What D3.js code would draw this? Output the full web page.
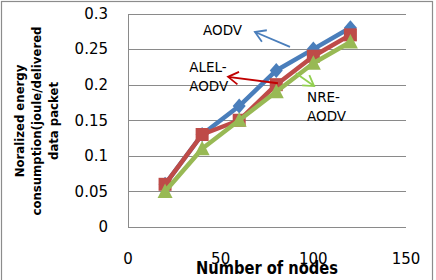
<!DOCTYPE html>
<html>
<head>
<meta charset="utf-8">
<script src="https://cdn.jsdelivr.net/npm/d3@7"></script>
<style>
  body { margin: 0; background: #fff; }
  text { font-family: "DejaVu Sans", sans-serif; fill: #000; }
</style>
</head>
<body>
<div id="chart"></div>
<script>
// data
var nodes = [20, 40, 60, 80, 100, 120];
var aodv = [0.06, 0.13, 0.17, 0.22, 0.25, 0.28];
var alelAodv = [0.06, 0.13, 0.15, 0.20, 0.24, 0.27];
var nreAodv = [0.05, 0.11, 0.15, 0.19, 0.23, 0.26];
var yTicks = [0, 0.05, 0.1, 0.15, 0.2, 0.25, 0.3];
var xTicks = [0, 50, 100, 150];

var width = 436
var height = 280

var svg = d3.select("#chart")
  .append("svg")
    .attr("width", width)
    .attr("height", height)

var x = d3.scaleLinear().domain([0, 150]).range([128, 406]);
var y = d3.scaleLinear().domain([0, 0.3]).range([227, 13.5]);

// outer border
svg.append("rect")
  .attr("x", 1.5).attr("y", 1.5)
  .attr("width", 431).attr("height", 280)
  .attr("fill", "#fff")
  .attr("stroke", "#8c8c8c")
  .attr("stroke-width", 1.2)

// gridlines
svg.selectAll(".grid")
  .data(yTicks)
  .enter()
  .append("line")
    .attr("x1", x(0))
    .attr("x2", x(150))
    .attr("y1", function(d) { return Math.round(y(d)) + 0.5; })
    .attr("y2", function(d) { return Math.round(y(d)) + 0.5; })
    .attr("stroke", "#8a8a8a")
    .attr("stroke-width", 1)

svg.append("line")
  .attr("x1", x(0) + 0.5).attr("x2", x(0) + 0.5)
  .attr("y1", Math.round(y(0.3))).attr("y2", Math.round(y(0)) + 1)
  .attr("stroke", "#8a8a8a")

// tick labels
svg.selectAll(".ylab")
  .data(yTicks)
  .enter()
  .append("text")
    .attr("x", 108)
    .attr("y", function(d) { return y(d); })
    .attr("dy", "0.36em")
    .attr("text-anchor", "end")
    .style("font-size", "15px")
    .text(function(d) { return d3.format("")(+d.toFixed(2)); })

svg.selectAll(".xlab")
  .data(xTicks)
  .enter()
  .append("text")
    .attr("x", function(d) { return x(d); })
    .attr("y", 264)
    .attr("text-anchor", "middle")
    .style("font-size", "15px")
    .text(function(d) { return d; })

// axis titles
svg.append("text")
  .attr("x", 267)
  .attr("y", 274)
  .attr("text-anchor", "middle")
  .attr("textLength", 142)
  .attr("lengthAdjust", "spacingAndGlyphs")
  .style("font-family", "'DejaVu Sans Condensed', 'DejaVu Sans', sans-serif")
  .style("font-weight", "bold")
  .style("font-size", "17px")
  .text("Number of nodes")

var ytitle = ["Noralized energy", "consumption(joule/delivered", "data packet"];
svg.selectAll(".ytitle")
  .data(ytitle)
  .enter()
  .append("text")
    .attr("transform", function(d, i) { return "translate(" + (24 + i * 17) + ",121) rotate(-90)"; })
    .attr("text-anchor", "middle")
    .style("font-family", "'DejaVu Sans Condensed', 'DejaVu Sans', sans-serif")
    .style("font-weight", "bold")
    .style("font-size", "13px")
    .text(function(d) { return d; })

// marker shapes
var diamond = "M0,-7.5L6.5,0L0,7.5L-6.5,0Z";
var square = "M-6.5,-6.5H6.5V6.5H-6.5Z";
var triangle = "M0,-8L7.5,6.5H-7.5Z";

// series
var series = [
  { name: "AODV", values: aodv, color: "#4A7EBB", marker: diamond },
  { name: "ALEL-AODV", values: alelAodv, color: "#BE4B48", marker: square },
  { name: "NRE-AODV", values: nreAodv, color: "#98B954", marker: triangle }
];

var line = d3.line()
  .x(function(d) { return x(d[0]); })
  .y(function(d) { return y(d[1]); })

series.forEach(function(s) {
  var pts = nodes.map(function(n, i) { return [n, s.values[i]]; });
  svg.append("path")
    .attr("d", line(pts))
    .attr("fill", "none")
    .attr("stroke", s.color)
    .attr("stroke-width", 4.5)
    .attr("stroke-linejoin", "round")
  svg.selectAll(null)
    .data(pts)
    .enter()
    .append("path")
      .attr("d", s.marker)
      .attr("transform", function(d) { return "translate(" + x(d[0]) + "," + y(d[1]) + ")"; })
      .attr("fill", s.color)
});

// annotations (data units)
var labels = [
  { lines: ["AODV"], x: 40.5, y: 0.27 },
  { lines: ["ALEL-", "AODV"], x: 33, y: 0.218 },
  { lines: ["NRE-", "AODV"], x: 96.6, y: 0.1756 }
];
var arrows = [
  { from: [87.4, 0.253], to: [68.5, 0.274], color: "#4A7EBB" },
  { from: [80.9, 0.202], to: [54, 0.211], color: "#C00000" },
  { from: [90.6, 0.216], to: [100.4, 0.198], color: "#92D050" }
];

labels.forEach(function(l) {
  l.lines.forEach(function(t, i) {
    svg.append("text")
      .attr("x", x(l.x))
      .attr("y", y(l.y) + i * 19)
      .style("font-size", "13.5px")
      .text(t)
  });
});

arrows.forEach(function(a) {
  var x1 = x(a.from[0]), y1 = y(a.from[1]), x2 = x(a.to[0]), y2 = y(a.to[1]);
  var ang = Math.atan2(y2 - y1, x2 - x1);
  var hl = 12, ha = 0.55;
  svg.append("line")
    .attr("x1", x1).attr("y1", y1).attr("x2", x2).attr("y2", y2)
    .attr("stroke", a.color).attr("stroke-width", 1.8)
  svg.append("path")
    .attr("d", "M" + (x2 - hl * Math.cos(ang - ha)) + "," + (y2 - hl * Math.sin(ang - ha)) +
      "L" + x2 + "," + y2 +
      "L" + (x2 - hl * Math.cos(ang + ha)) + "," + (y2 - hl * Math.sin(ang + ha)))
    .attr("fill", "none")
    .attr("stroke", a.color).attr("stroke-width", 1.8)
});
</script>
</body>
</html>
